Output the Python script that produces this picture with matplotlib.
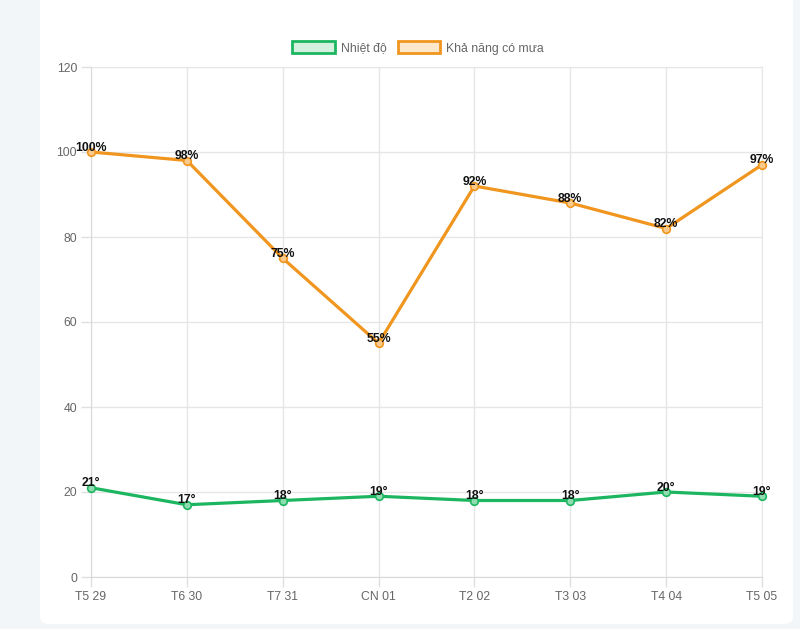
import matplotlib.pyplot as plt
from matplotlib.patches import FancyBboxPatch, Patch

days = ['T5 29', 'T6 30', 'T7 31', 'CN 01', 'T2 02', 'T3 03', 'T4 04', 'T5 05']
temp = [21, 17, 18, 19, 18, 18, 20, 19]
rain = [100, 98, 75, 55, 92, 88, 82, 97]

green = '#1db660'
orange = '#f0961f'

plt.rcParams['font.family'] = ['Liberation Sans', 'DejaVu Sans']

fig = plt.figure(figsize=(8, 6.29), dpi=100)
fig.patch.set_facecolor('#f3f6f8')
card = FancyBboxPatch((40 / 800, 5 / 629), 753 / 800, 640 / 629,
                      boxstyle='round,pad=0,rounding_size=0.012',
                      transform=fig.transFigure, facecolor='white',
                      edgecolor='none', zorder=-10)
fig.patches.append(card)

ax = fig.add_axes([91 / 800, 1 - 577 / 629, 671 / 800, 510 / 629])
ax.set_facecolor('none')
x = list(range(len(days)))

ax.plot(x, temp, color=green, lw=2.3, marker='o', ms=5.5,
        mfc='#8fdcb0', mec=green, mew=1.2, zorder=3, clip_on=False)
ax.plot(x, rain, color=orange, lw=2.3, marker='o', ms=5.5,
        mfc='#f8cb8c', mec=orange, mew=1.2, zorder=3, clip_on=False)

for i, v in enumerate(temp):
    ax.annotate(f'{v}°', (i, v), xytext=(0, 1), textcoords='offset points',
                ha='center', va='baseline', fontsize=8.8, fontweight='bold',
                color='#111111', zorder=4)
for i, v in enumerate(rain):
    ax.annotate(f'{v}%', (i, v), xytext=(0, 1), textcoords='offset points',
                ha='center', va='baseline', fontsize=8.8, fontweight='bold',
                color='#111111', zorder=4)

ax.set_xlim(0, len(days) - 1)
ax.set_ylim(0, 120)
ax.set_yticks(range(0, 121, 20))
ax.set_xticks(x)
ax.set_xticklabels(days)
ax.grid(True, color='#e6e6e6', lw=1)
ax.set_axisbelow(True)
for s in ax.spines.values():
    s.set_color('#e6e6e6')
ax.spines['left'].set_color('#d9d9d9')
ax.spines['bottom'].set_color('#d9d9d9')
ax.tick_params(colors='#e0e0e0', labelcolor='#666666', labelsize=8.8,
               length=7, width=1, pad=3)

handles = [Patch(facecolor='#d4f1e0', edgecolor=green, lw=2, label='Nhiệt độ'),
           Patch(facecolor='#fde8cc', edgecolor=orange, lw=2, label='Khả năng có mưa')]
fig.legend(handles=handles, loc='center', bbox_to_anchor=(418 / 800, 1 - 48 / 629),
           ncol=2, frameon=False, fontsize=8.8, handlelength=3.5, handleheight=1.1,
           columnspacing=0.9, handletextpad=0.5, labelcolor='#666666')

fig.savefig('out.png', dpi=100, facecolor=fig.get_facecolor())
